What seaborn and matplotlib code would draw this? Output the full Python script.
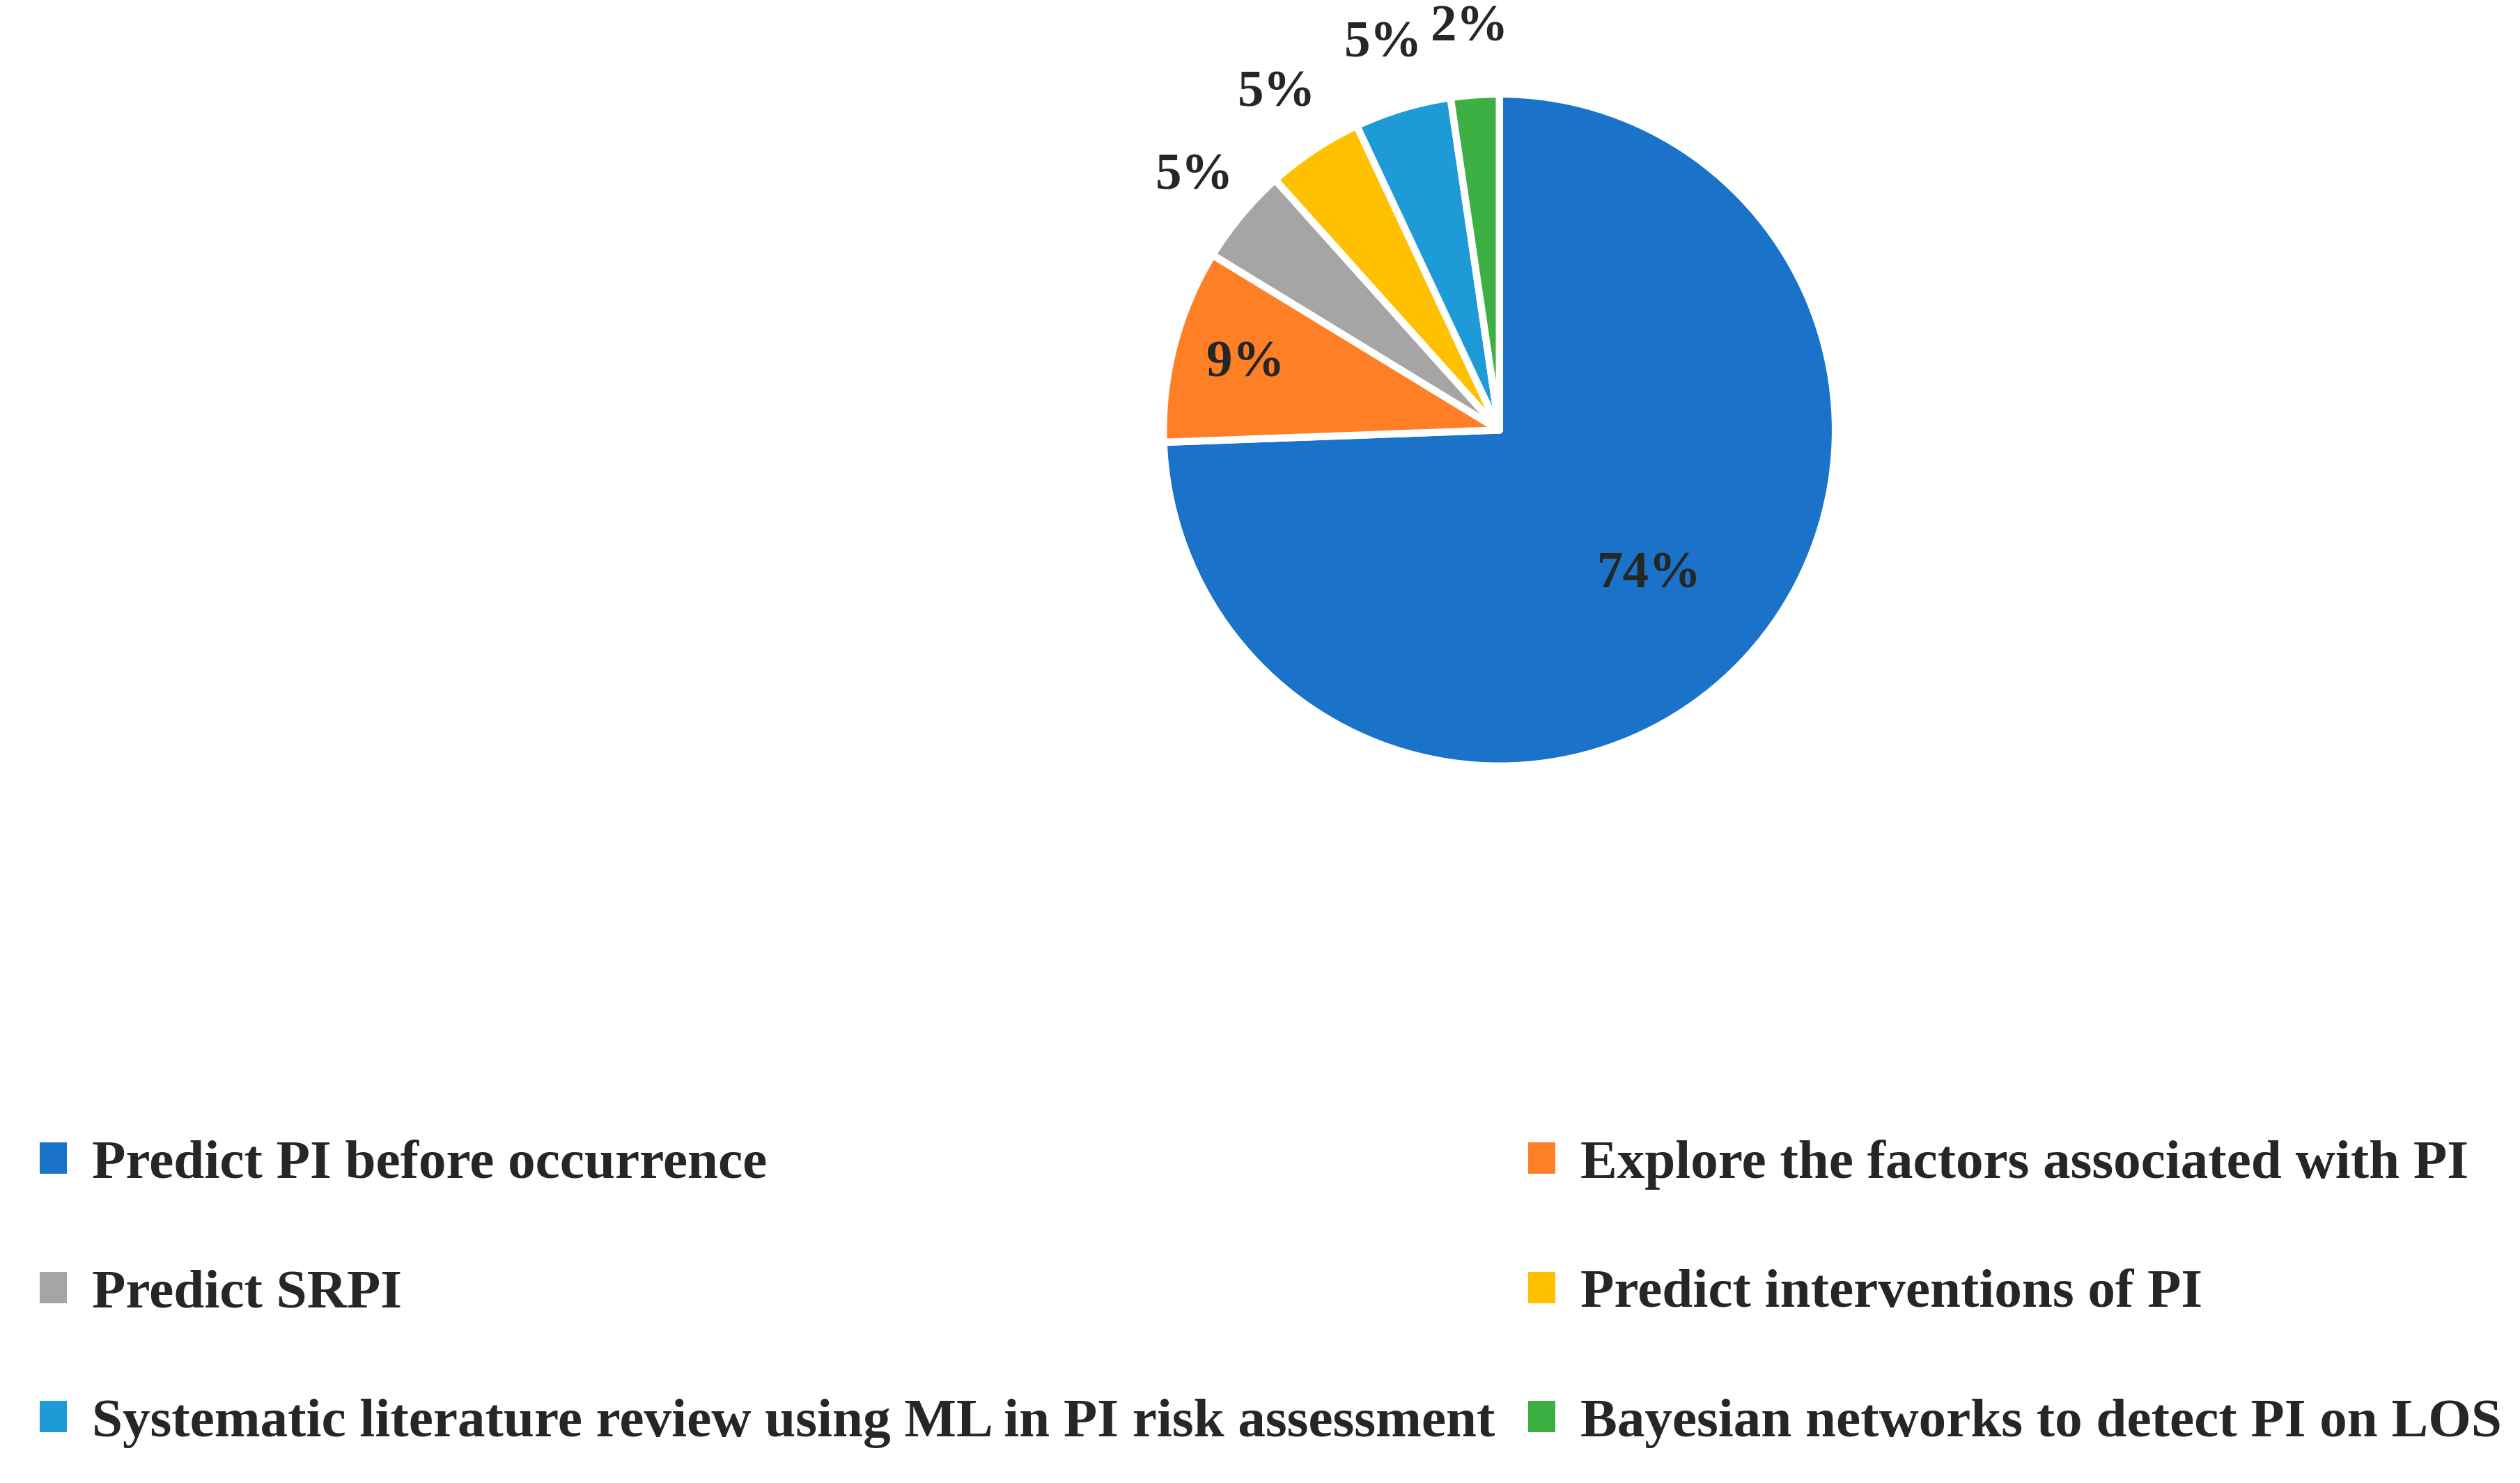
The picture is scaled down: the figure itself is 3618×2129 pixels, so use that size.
import matplotlib
matplotlib.use("Agg")
import matplotlib.pyplot as plt
import seaborn as sns
import numpy as np
from matplotlib.patches import Patch

sns.set_style("white")
plt.rcParams['font.family'] = ['Liberation Serif', 'DejaVu Serif']

categories = ["Predict PI before occurrence", "Explore the factors associated with PI",
              "Predict SRPI", "Predict interventions of PI",
              "Systematic literature review using ML in PI risk assessment",
              "Bayesian networks to detect PI on LOS"]
counts = [32, 4, 2, 2, 2, 1]
pct_labels = ["74%", "9%", "5%", "5%", "5%", "2%"]
colors = ["#1a73c8", "#ff7f27", "#a5a5a5", "#ffc000", "#1e9bd7", "#3cb043"]

fig = plt.figure(figsize=(12.06, 7.097), dpi=300)
ax = fig.add_axes([0.455, 0.47, 0.28, 0.48])
wedges, _ = ax.pie(counts, colors=colors, startangle=90, counterclock=False,
                   wedgeprops=dict(edgecolor="white", linewidth=2.5, joinstyle="round"))
ax.set_aspect("equal")
ax.set_xlim(-1.05, 1.05)
ax.set_ylim(-1.05, 1.05)

label_r = [0.62, 0.78, 1.18, 1.2, 1.2, 1.2]
for w, lab, r in zip(wedges, pct_labels, label_r):
    ang = np.deg2rad((w.theta1 + w.theta2) / 2)
    ax.text(r * np.cos(ang), r * np.sin(ang), lab, ha="center", va="center",
            fontsize=18, fontweight="bold")

handles = [Patch(facecolor=c, edgecolor="none") for c in colors]
order = [0, 2, 4, 1, 3, 5]
fig.legend([handles[i] for i in order], [categories[i] for i in order], ncol=2,
           loc="lower left", bbox_to_anchor=(-0.004, -0.01), frameon=False,
           prop=dict(size=19, weight="bold"), labelspacing=1.45,
           handlelength=0.5, handleheight=0.5, handletextpad=0.45, columnspacing=0.6)

fig.savefig("out.png", dpi=300)
